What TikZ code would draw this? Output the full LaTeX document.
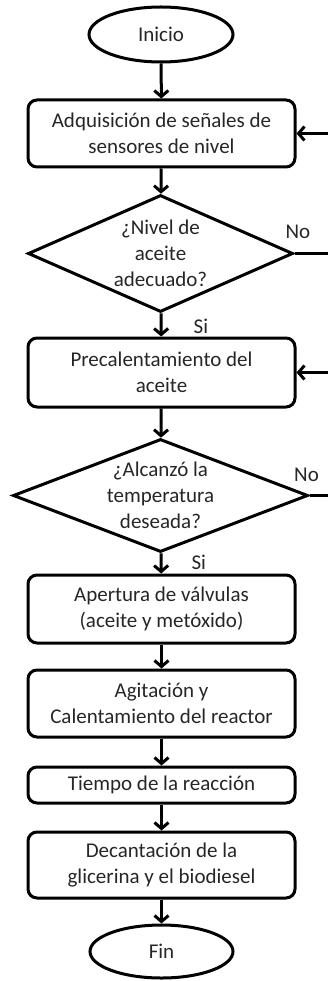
\documentclass[tikz,border=0pt]{standalone}
\usepackage{fontspec}
\setmainfont{Carlito}
\usetikzlibrary{shapes.geometric,arrows.meta}

\begin{document}
\begin{tikzpicture}[x=1pt,y=-1pt,
    line width=3pt,
    every node/.style={font=\fontsize{21}{26}\selectfont,text=black!85,inner sep=0pt},
    term/.style={draw,ellipse,minimum width=144pt,minimum height=55pt},
    proc/.style={draw,rectangle,rounded corners=9pt,minimum width=267pt,align=center},
    decis/.style={draw,diamond,align=center,inner sep=-3pt},
    flow/.style={-{Straight Barb[length=6pt,width=14pt]}}]
  \useasboundingbox (0,0) rectangle (328,981);
  \coordinate (edge) at (328,0);
  \node[term] (inicio) at (161,34.5) {Inicio};
  \node[proc,minimum height=67pt] (adq) at (161.5,133.5) {Adquisición de señales de\\sensores de nivel};
  \node[decis,minimum width=265pt,minimum height=117pt,aspect=2.26] (nivel) at (160.5,253.5) {¿Nivel de\\aceite\\adecuado?};
  \node[proc,minimum height=69pt] (prec) at (161.5,372.5) {Precalentamiento del\\aceite};
  \node[decis,minimum width=295pt,minimum height=113pt,aspect=2.6] (temp) at (160.5,495.5) {¿Alcanzó la\\temperatura\\deseada?};
  \node[proc,minimum height=68pt] (apert) at (161.5,609) {Apertura de válvulas\\(aceite y metóxido)};
  \node[proc,minimum height=67pt] (agit) at (161.5,703.5) {Agitación y\\Calentamiento del reactor};
  \node[proc,minimum height=36pt] (tiempo) at (161.5,785) {Tiempo de la reacción};
  \node[proc,minimum height=66pt] (decan) at (161.5,865) {Decantación de la\\glicerina y el biodiesel};
  \node[term,minimum width=143pt,minimum height=53pt] (fin) at (161.5,951.5) {Fin};
  % main flow
  \draw[flow] (inicio) -- (adq);
  \draw[flow] (adq) -- (nivel);
  \draw[flow] (nivel) -- (prec) node[pos=0.55,right=31pt]{Si};
  \draw[flow] (prec) -- (temp);
  \draw[flow] (temp) -- (apert) node[pos=0.45,right=29pt]{Si};
  \draw[flow] (apert) -- (agit);
  \draw[flow] (agit) -- (tiempo);
  \draw[flow] (tiempo) -- (decan);
  \draw[flow] (decan) -- (fin);
  % loops (cut at the right edge)
  \draw (nivel.east) -- (nivel.east -| edge) node[pos=0.1,above=13pt]{No};
  \draw (temp.east) -- (temp.east -| edge) node[pos=0.0,above=12pt,xshift=-3pt]{No};
  \draw[flow] (adq.east -| edge) -- (adq.east);
  \draw[flow] (prec.east -| edge) -- (prec.east);
\end{tikzpicture}
\end{document}
